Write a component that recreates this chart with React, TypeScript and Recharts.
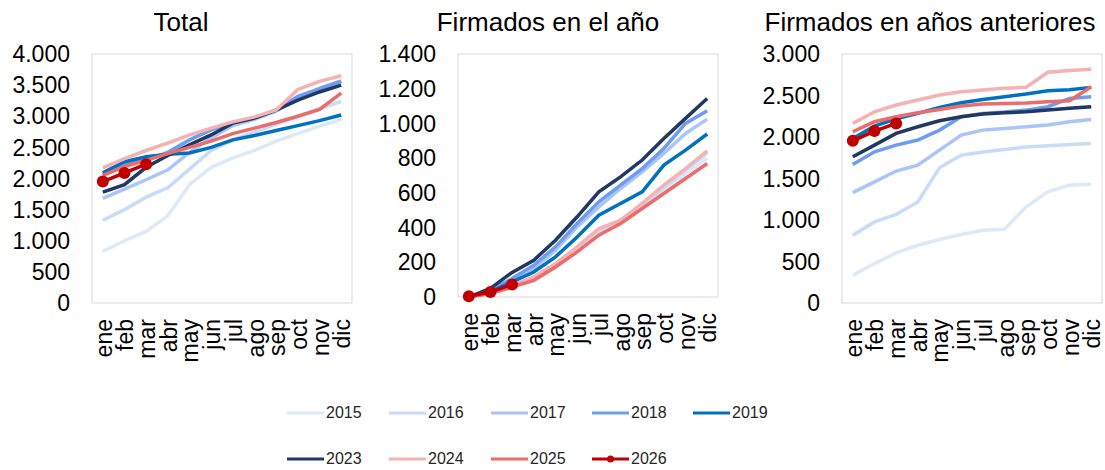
import React from 'react';
import { LineChart, Line, XAxis, YAxis, CartesianGrid } from 'recharts';

const months = ['ene', 'feb', 'mar', 'abr', 'may', 'jun', 'jul', 'ago', 'sep', 'oct', 'nov', 'dic'];
const years = ['2015', '2016', '2017', '2018', '2019', '2023', '2024', '2025', '2026'];
const colors = ['#dce9f7', '#c9dbfb', '#a9c5f9', '#6e9cf0', '#0070c0', '#1f3864', '#f4b2b2', '#ec6b6b', '#c00000'];

// Total
const totalValues: number[][] = [
  [830, 1000, 1150, 1400, 1900, 2180, 2330, 2450, 2600, 2720, 2840, 2950],
  [1330, 1500, 1700, 1850, 2150, 2450, 2620, 2750, 2870, 3000, 3120, 3240],
  [1680, 1830, 1980, 2140, 2420, 2650, 2850, 2950, 3080, 3300, 3450, 3570],
  [2060, 2240, 2300, 2420, 2620, 2780, 2890, 2970, 3100, 3320, 3440, 3560],
  [2090, 2270, 2350, 2390, 2410, 2500, 2620, 2690, 2770, 2850, 2930, 3020],
  [1780, 1900, 2180, 2370, 2540, 2700, 2890, 2970, 3100, 3260, 3390, 3500],
  [2170, 2320, 2450, 2570, 2700, 2810, 2910, 2990, 3100, 3430, 3560, 3650],
  [2050, 2190, 2290, 2400, 2500, 2600, 2720, 2810, 2900, 3000, 3110, 3370],
  [1950, 2090, 2230],
];

// Firmados en el año
const inYearValues: number[][] = [
  [0, 18, 55, 95, 170, 265, 365, 430, 520, 610, 710, 800],
  [0, 22, 62, 105, 185, 280, 380, 445, 530, 630, 730, 830],
  [0, 35, 96, 164, 269, 404, 519, 625, 721, 827, 942, 1025],
  [0, 40, 106, 183, 289, 423, 548, 644, 740, 856, 1000, 1073],
  [0, 30, 87, 144, 231, 346, 471, 539, 606, 760, 846, 939],
  [0, 50, 142, 212, 327, 462, 606, 692, 789, 913, 1029, 1144],
  [0, 25, 67, 116, 192, 289, 394, 442, 539, 644, 740, 842],
  [0, 20, 58, 96, 173, 260, 356, 423, 510, 596, 683, 769],
  [4, 29, 72],
];

// Firmados en años anteriores
const priorValues: number[][] = [
  [334, 475, 603, 696, 765, 825, 877, 889, 1158, 1339, 1420, 1432],
  [816, 977, 1066, 1218, 1630, 1780, 1820, 1850, 1880, 1895, 1910, 1922],
  [1330, 1460, 1590, 1661, 1842, 2023, 2083, 2103, 2123, 2144, 2184, 2212],
  [1669, 1822, 1902, 1963, 2083, 2244, 2284, 2300, 2324, 2365, 2465, 2485],
  [1983, 2130, 2220, 2284, 2357, 2413, 2453, 2485, 2517, 2558, 2570, 2598],
  [1762, 1902, 2043, 2123, 2196, 2244, 2276, 2292, 2304, 2324, 2345, 2365],
  [2164, 2304, 2385, 2445, 2505, 2546, 2566, 2586, 2600, 2780, 2800, 2815],
  [2063, 2184, 2244, 2292, 2332, 2373, 2397, 2405, 2410, 2425, 2437, 2606],
  [1954, 2071, 2164],
];

const totalTicks = [0, 500, 1000, 1500, 2000, 2500, 3000, 3500, 4000];
const inYearTicks = [0, 200, 400, 600, 800, 1000, 1200, 1400];
const priorTicks = [0, 500, 1000, 1500, 2000, 2500, 3000];

const fmt = (n: number) =>
  n >= 1000 ? `${Math.floor(n / 1000)}.${String(n % 1000).padStart(3, '0')}` : String(n);

const toRows = (values: number[][]) =>
  months.map((m, i) => {
    const row: any = { month: m };
    years.forEach((y, k) => {
      const v = values[k][i];
      row[y] = v === undefined ? null : v;
    });
    return row;
  });

const MonthTick = (props: any) => {
  const { x, y, payload } = props;
  return (
    <text x={x} y={y} dy={9} transform={`rotate(-90, ${x}, ${y})`} textAnchor="end" fontSize={23} fill="#000">
      {payload.value}
    </text>
  );
};

interface PanelProps {
  values: number[][];
  ticks: number[];
  left: number;
  width: number;
  margin: { top: number; right: number; bottom: number; left: number };
}

const Panel: React.FC<PanelProps> = ({ values, ticks, left, width, margin }) => (
  <div style={{ position: 'absolute', left, top: 0 }}>
    <LineChart width={width} height={380} data={toRows(values)} margin={margin}>
      <CartesianGrid
        stroke="#d9d9d9"
        horizontalCoordinatesGenerator={({ offset }: any) => [offset.top, offset.top + offset.height]}
        verticalCoordinatesGenerator={({ offset }: any) => [offset.left, offset.left + offset.width]}
      />
      <XAxis
        dataKey="month"
        interval={0}
        axisLine={false}
        tickLine={false}
        tickSize={0}
        tickMargin={16}
        height={65}
        padding={{ left: 10.8, right: 10.8 }}
        tick={<MonthTick />}
      />
      <YAxis
        domain={[ticks[0], ticks[ticks.length - 1]]}
        ticks={ticks}
        interval={0}
        width={80}
        axisLine={false}
        tickLine={false}
        tickSize={0}
        tickMargin={22}
        tickFormatter={fmt}
        tick={{ fill: '#000', fontSize: 23 }}
      />
      {years.map((y, k) => (
        <Line
          key={y}
          type="linear"
          dataKey={y}
          stroke={colors[k]}
          strokeWidth={3.5}
          dot={y === '2026' ? { r: 6, fill: colors[k], stroke: colors[k], strokeWidth: 0 } : false}
          activeDot={false}
          isAnimationActive={false}
        />
      ))}
    </LineChart>
  </div>
);

const titleStyle: React.CSSProperties = {
  position: 'absolute',
  top: 9,
  fontSize: 26,
  lineHeight: '26px',
  textAlign: 'center',
  color: '#000',
  whiteSpace: 'nowrap',
};

const legendPos = [
  { x: 287, y: 413 }, { x: 389, y: 413 }, { x: 491, y: 413 }, { x: 592, y: 413 }, { x: 693, y: 413 },
  { x: 287, y: 459 }, { x: 389, y: 459 }, { x: 491, y: 459 }, { x: 592, y: 459 },
];

export default function App() {
  return (
    <div
      style={{
        position: 'absolute',
        left: 0,
        top: 0,
        width: 1105,
        height: 470,
        background: '#fff',
        fontFamily: '"Liberation Sans", Arial, sans-serif',
        overflow: 'hidden',
      }}
    >
      <div style={{ ...titleStyle, left: 0, width: 362 }}>Total</div>
      <div style={{ ...titleStyle, left: 370, width: 356 }}>Firmados en el año</div>
      <div style={{ ...titleStyle, left: 755, width: 350 }}>Firmados en años anteriores</div>

      <Panel values={totalValues} ticks={totalTicks} left={0} width={360}
        margin={{ top: 54, right: 8, bottom: 12, left: 12 }} />
      <Panel values={inYearValues} ticks={inYearTicks} left={370} width={360}
        margin={{ top: 54, right: 12, bottom: 18, left: 8 }} />
      <Panel values={priorValues} ticks={priorTicks} left={740} width={365}
        margin={{ top: 54, right: 3, bottom: 12, left: 22 }} />

      {years.map((y, k) => (
        <div
          key={y}
          style={{
            position: 'absolute',
            left: legendPos[k].x,
            top: legendPos[k].y - 10,
            height: 20,
            display: 'flex',
            alignItems: 'center',
            fontSize: 16,
            color: '#262626',
          }}
        >
          <svg width={37} height={20}>
            <line x1={0} y1={10} x2={37} y2={10} stroke={colors[k]} strokeWidth={3} />
            {y === '2026' && <circle cx={18.5} cy={10} r={3.5} fill={colors[k]} />}
          </svg>
          <span style={{ marginLeft: 2 }}>{y}</span>
        </div>
      ))}
    </div>
  );
}
